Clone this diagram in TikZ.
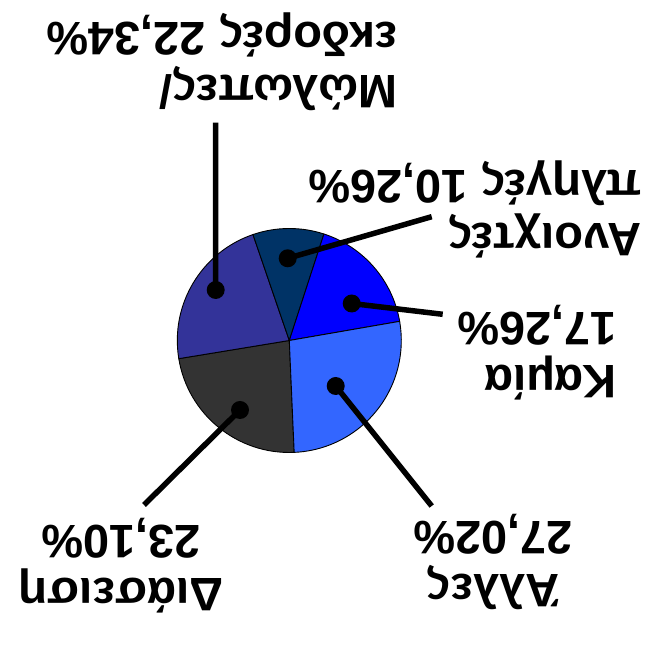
\documentclass[tikz,border=0pt]{standalone}
\usepackage{fontspec}
\setmainfont{Liberation Sans}
\usetikzlibrary{positioning}
\definecolor{diasgray}{HTML}{333333}
\definecolor{molopurple}{HTML}{333399}
\definecolor{anoixnavy}{HTML}{003366}
\definecolor{kamiablue}{HTML}{0000FF}
\definecolor{allesblue}{HTML}{3366FF}

\begin{document}
\begin{tikzpicture}
  [x=1pt, y=1pt,
   slice/.style={draw=black, line width=0.9pt, line join=round},
   leader/.style={line width=5.5pt},
   leaderdot/.style={circle, fill=black, inner sep=0pt, minimum size=18pt},
   pielabel/.style={
     rotate=180,
     inner sep=0pt,
     font=\bfseries\fontsize{47}{53}\selectfont
     }
  ]
  \useasboundingbox (0,0) rectangle (653,652);

  % SLICES
  \coordinate (centre) at (289.3,311.5);
  \filldraw[slice, fill=diasgray]   (centre) -- ++(272.5:112) arc[start angle=272.5, end angle=189.34, radius=112] -- cycle;
  \filldraw[slice, fill=molopurple] (centre) -- ++(189.34:112) arc[start angle=189.34, end angle=108.92, radius=112] -- cycle;
  \filldraw[slice, fill=anoixnavy]  (centre) -- ++(108.92:112) arc[start angle=108.92, end angle=71.98, radius=112] -- cycle;
  \filldraw[slice, fill=kamiablue]  (centre) -- ++(71.98:112) arc[start angle=71.98, end angle=9.84, radius=112] -- cycle;
  \filldraw[slice, fill=allesblue]  (centre) -- ++(9.84:112) arc[start angle=9.84, end angle=-87.5, radius=112] -- cycle;

  % LABELS
  \node[pielabel, align=left, anchor=west] (molopes) at (398,590) {Μώλωπες/\\εκδορές 22,34\%};
  \node[pielabel, align=left, anchor=west] (anoixtes) at (642,443) {Ανοιχτές\\πληγές 10,26\%};
  \node[pielabel, align=left, anchor=west] (kamia) at (617,299.5) {Καμία\\17,26\%};
  \node[pielabel, align=center] (diaseisi) at (121,86) {Διάσειση\\23,10\%};
  \node[pielabel, align=center] (alles) at (493,90) {Άλλες\\27,02\%};

  % LEADERS
  \node[leaderdot] (molopesdot) at (215.7,362) {};
  \node[leaderdot] (anoixtesdot) at (287.7,393.7) {};
  \node[leaderdot] (kamiadot) at (351.7,348.5) {};
  \node[leaderdot] (allesdot) at (335.7,266) {};
  \node[leaderdot] (diaseisidot) at (240,242) {};

  \coordinate (molopesend) at (215.5,529.3);
  \coordinate (anoixtesend) at (431.7,435.3);
  \coordinate (kamiaend) at (442.7,337.7);
  \coordinate (allesend) at (431.7,146);
  \coordinate (diaseisiend) at (144,147);

  \draw[leader] (molopesdot.center) -- (molopesend);
  \draw[leader] (anoixtesdot.center) -- (anoixtesend);
  \draw[leader] (kamiadot.center) -- (kamiaend);
  \draw[leader] (allesdot.center) -- (allesend);
  \draw[leader] (diaseisidot.center) -- (diaseisiend);
\end{tikzpicture}
\end{document}
